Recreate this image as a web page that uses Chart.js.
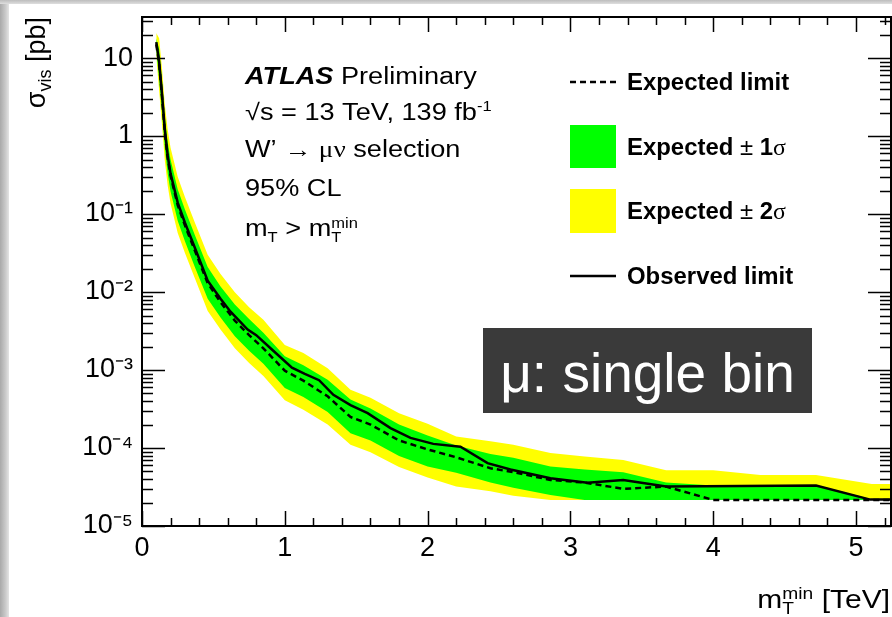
<!DOCTYPE html>
<html><head><meta charset="utf-8">
<script src="https://cdn.jsdelivr.net/npm/chart.js@4.4.1/dist/chart.umd.min.js"></script>
<style>
html,body{margin:0;padding:0;background:#fff;width:892px;height:617px;overflow:hidden;}
#leftStrip{position:absolute;left:0;top:0;width:9px;height:617px;background:linear-gradient(to right,#a9a9a9,#c9c9c9 60%,#e4e4e4);}
#topStrip{position:absolute;left:0;top:0;width:892px;height:4px;background:linear-gradient(to bottom,#bcbcbc,#dedede);}
#wrap{position:absolute;left:0;top:0;width:892px;height:617px;}
</style></head><body>
<div id="leftStrip"></div><div id="topStrip"></div>
<div id="wrap"><canvas id="c" width="892" height="617"></canvas></div>
<script>
// ---- data ----
const mTmin = [0.1, 0.12, 0.14, 0.16, 0.18, 0.2, 0.25, 0.3, 0.37, 0.46, 0.55, 0.65, 0.75, 0.85, 1.0, 1.13, 1.3, 1.46, 1.6, 1.8, 2.0, 2.2, 2.44, 2.6, 2.86, 3.1, 3.37, 3.67, 4.0, 4.33, 4.72, 5.11, 5.25];
const expectedLimit = [15, 8.5, 3.2, 1.1, 0.52, 0.31, 0.13, 0.072, 0.034, 0.013, 0.0074, 0.0043, 0.0028, 0.0019, 0.00098, 0.00073, 0.00046, 0.00025, 0.0002, 0.000125, 0.000096, 0.000076, 0.000055, 0.000049, 0.000039, 0.000036, 0.00003, 0.000032, 0.0000216, 0.0000216, 0.0000216, 0.0000216, 0.0000216];
const sigma1Up = [18, 13, 5.1, 1.76, 0.83, 0.5, 0.208, 0.115, 0.054, 0.021, 0.0118, 0.0069, 0.0045, 0.003, 0.0015, 0.00115, 0.00075, 0.00042, 0.00032, 0.0002, 0.000145, 0.000108, 0.000084, 0.000075, 0.000058, 0.000053, 0.000049, 0.000036, 0.000033, 0.0000335, 0.0000335, 0.000022, 0.000022];
const sigma1Down = [12.5, 5.4, 2.0, 0.69, 0.33, 0.195, 0.082, 0.045, 0.021, 0.0082, 0.0047, 0.0027, 0.00176, 0.0012, 0.00059, 0.00045, 0.00029, 0.000155, 0.000125, 0.000079, 0.000058, 0.000048, 0.000036, 0.000031, 0.000025, 0.0000216, 0.0000216, 0.0000216, 0.0000216, 0.0000216, 0.0000216, 0.0000216, 0.0000216];
const sigma2Up = [21, 18, 7.4, 2.5, 1.2, 0.71, 0.3, 0.166, 0.078, 0.03, 0.017, 0.0099, 0.0064, 0.0044, 0.0021, 0.00165, 0.00105, 0.00056, 0.00044, 0.00028, 0.000205, 0.00014, 0.000122, 0.00011, 0.000086, 0.000078, 0.00007, 0.000052, 0.000052, 0.000045, 0.000045, 0.0000345, 0.0000345];
const sigma2Down = [10.5, 3.8, 1.4, 0.48, 0.23, 0.136, 0.057, 0.032, 0.015, 0.0057, 0.0033, 0.0019, 0.00123, 0.00084, 0.00041, 0.00031, 0.0002, 0.00011, 0.000088, 0.000057, 0.000042, 0.000032, 0.000028, 0.0000245, 0.0000216, 0.0000216, 0.0000216, 0.0000216, 0.0000216, 0.0000216, 0.0000216, 0.0000216, 0.0000216];
const observedMass = [0.1, 0.12, 0.14, 0.16, 0.18, 0.2, 0.25, 0.3, 0.37, 0.46, 0.55, 0.62, 0.74, 0.8, 0.9, 1.05, 1.14, 1.24, 1.34, 1.46, 1.58, 1.74, 1.88, 2.04, 2.23, 2.42, 2.58, 2.86, 3.12, 3.37, 3.67, 4.72, 5.1, 5.25];
const observedLimit = [16, 9, 3.5, 1.2, 0.56, 0.33, 0.14, 0.078, 0.037, 0.014, 0.0082, 0.0056, 0.0033, 0.0028, 0.0019, 0.00107, 0.00089, 0.00074, 0.00048, 0.000355, 0.00028, 0.00018, 0.000135, 0.000113, 0.000104, 0.000064, 0.000053, 0.000041, 0.0000358, 0.000039, 0.000032, 0.000033, 0.0000218, 0.0000218];
const xTickValues = [0, 1, 2, 3, 4, 5];
const xTickLabels = ['0', '1', '2', '3', '4', '5'];
const yTickValues = [1e-5, 1e-4, 1e-3, 1e-2, 1e-1, 1, 10];
const yTickLabels = ['10\u207B\u2075', '10\u207B\u2074', '10\u207B\u00B3', '10\u207B\u00B2', '10\u207B\u00B9', '1', '10'];
const legendLabels = ['Expected limit', 'Expected \u00B1 1\u03C3', 'Expected \u00B1 2\u03C3', 'Observed limit'];
const X_MAX = 5.245, Y_MIN = 1e-5, Y_MAX = 33.6;

// ---- helpers ----
const FS = 'Liberation Sans, Arial, sans-serif';
const FSERIF = 'Liberation Serif, Times New Roman, serif';
const pts = (xs, ys) => xs.map((x, i) => ({x: x, y: ys[i]}));

function partsWidth(ctx, parts) {
  let w = 0;
  for (const p of parts) {
    ctx.font = p.f;
    if (p.stack) w += Math.max(ctx.measureText(p.sup).width, ctx.measureText(p.sub).width);
    else w += ctx.measureText(p.t).width;
  }
  return w;
}
function drawParts(ctx, x, y, parts, sx, align) {
  ctx.save();
  ctx.translate(x, y);
  ctx.scale(sx, 1);
  ctx.textBaseline = 'alphabetic';
  ctx.textAlign = 'left';
  let cx = align === 'right' ? -partsWidth(ctx, parts) : 0;
  for (const p of parts) {
    ctx.font = p.f;
    if (p.stack) {
      ctx.fillText(p.sup, cx, p.supDy);
      ctx.fillText(p.sub, cx, p.subDy);
      cx += Math.max(ctx.measureText(p.sup).width, ctx.measureText(p.sub).width);
    } else {
      ctx.fillText(p.t, cx, p.dy || 0);
      cx += ctx.measureText(p.t).width;
    }
  }
  ctx.restore();
}

const decorPlugin = {
  id: 'decor',
  afterDatasetsDraw(chart) {
    const ctx = chart.ctx;
    const xs = chart.scales.x, ys = chart.scales.y;
    const {left, right, top, bottom} = chart.chartArea;
    ctx.save();
    ctx.strokeStyle = '#000';
    ctx.fillStyle = '#000';
    // ticks (inside frame, mirrored)
    ctx.lineWidth = 1.5;
    ctx.beginPath();
    for (let i = 0; i <= 30; i++) {
      const v = i * 0.2;
      if (v > X_MAX + 1e-9) break;
      const px = Math.round(xs.getPixelForValue(v)) + 0.5;
      const major = Math.abs(v - Math.round(v)) < 1e-9;
      const len = major ? 15 : 8;
      ctx.moveTo(px, bottom); ctx.lineTo(px, bottom - len);
      ctx.moveTo(px, top); ctx.lineTo(px, top + len);
    }
    for (let e = -5; e <= 1; e++) {
      for (let k = 1; k <= 9; k++) {
        const v = k * Math.pow(10, e);
        if (v > Y_MAX) break;
        const py = Math.round(ys.getPixelForValue(v)) + 0.5;
        const len = k === 1 ? 23 : 11;
        ctx.moveTo(left, py); ctx.lineTo(left + len, py);
        ctx.moveTo(right, py); ctx.lineTo(right - len, py);
      }
    }
    ctx.stroke();
    // frame
    ctx.lineWidth = 2;
    ctx.strokeRect(left, top, right - left, bottom - top);
    ctx.restore();
  },
  afterDraw(chart) {
    const ctx = chart.ctx;
    ctx.save();
    ctx.fillStyle = '#000';
    // ATLAS label block
    const fa = 23, sa = 1.18;
    const n = fa + 'px ' + FS, sm = Math.round(fa * 0.62) + 'px ' + FS;
    drawParts(ctx, 245, 84, [{t: 'ATLAS', f: 'italic bold ' + n}, {t: ' Preliminary', f: n}], sa);
    drawParts(ctx, 245, 120, [{t: '\u221As = 13 TeV, 139 fb', f: n}, {t: '-1', f: sm, dy: -9}], sa);
    drawParts(ctx, 245, 157, [{t: 'W\u2019 \u2192 ', f: n}, {t: '\u03BC\u03BD', f: fa + 'px ' + FSERIF}, {t: ' selection', f: n}], sa);
    drawParts(ctx, 245, 196, [{t: '95% CL', f: n}], sa);
    drawParts(ctx, 245, 236, [{t: 'm', f: n}, {t: 'T', f: sm, dy: 6}, {t: ' > m', f: n}, {stack: true, sup: 'min', sub: 'T', f: sm, supDy: -8, subDy: 6}], sa);

    // legend
    const fl = 23, sl = 1.04;
    const b = 'bold ' + fl + 'px ' + FS, nr = fl + 'px ' + FS, sg = fl + 'px ' + FSERIF;
    const rows = [82, 147, 211, 276];
    ctx.strokeStyle = '#000';
    ctx.lineWidth = 2.5;
    ctx.setLineDash([6, 4]);
    ctx.beginPath(); ctx.moveTo(570, rows[0]); ctx.lineTo(616, rows[0]); ctx.stroke();
    ctx.setLineDash([]);
    ctx.fillStyle = '#00ff00'; ctx.fillRect(570, 125, 46, 43);
    ctx.fillStyle = '#ffff00'; ctx.fillRect(570, 189, 46, 44);
    ctx.beginPath(); ctx.moveTo(570, rows[3]); ctx.lineTo(616, rows[3]); ctx.stroke();
    ctx.fillStyle = '#000';
    const off = 8;
    drawParts(ctx, 627, rows[0] + off, [{t: legendLabels[0], f: b}], sl);
    drawParts(ctx, 627, rows[1] + off, [{t: 'Expected ', f: b}, {t: '\u00B1 ', f: nr}, {t: '1', f: b}, {t: '\u03C3', f: sg}], sl);
    drawParts(ctx, 627, rows[2] + off, [{t: 'Expected ', f: b}, {t: '\u00B1 ', f: nr}, {t: '2', f: b}, {t: '\u03C3', f: sg}], sl);
    drawParts(ctx, 627, rows[3] + off, [{t: legendLabels[3], f: b}], sl);

    // axis titles
    const ft = 25;
    drawParts(ctx, 890, 608, [{t: 'm', f: ft + 'px ' + FS}, {stack: true, sup: 'min', sub: 'T', f: Math.round(ft * 0.62) + 'px ' + FS, supDy: -9, subDy: 6}, {t: ' [TeV]', f: ft + 'px ' + FS}], 1.2, 'right');
    ctx.save();
    ctx.translate(45, 17);
    ctx.rotate(-Math.PI / 2);
    drawParts(ctx, 0, 0, [{t: '\u03C3', f: '27px ' + FS}, {t: 'vis', f: '18px ' + FS, dy: 6}, {t: ' [pb]', f: '27px ' + FS}], 1.0, 'right');
    ctx.restore();

    // overlay box
    ctx.fillStyle = '#3a3a3a';
    ctx.fillRect(483, 328, 329, 85);
    ctx.fillStyle = '#ffffff';
    ctx.font = '55px ' + FS;
    ctx.textAlign = 'center';
    ctx.textBaseline = 'alphabetic';
    ctx.fillText('\u03BC: single bin', 647.5, 392);
    ctx.restore();
  }
};

const tickFont = {family: FS, size: 27};
const chart = new Chart(document.getElementById('c'), {
  type: 'line',
  data: {
    datasets: [
      {label: 'Expected \u00B1 2\u03C3 (low)', data: pts(mTmin, sigma2Down), borderColor: 'rgba(0,0,0,0)', borderWidth: 0, pointRadius: 0, fill: false, order: 4},
      {label: legendLabels[2], data: pts(mTmin, sigma2Up), borderColor: 'rgba(0,0,0,0)', borderWidth: 0, pointRadius: 0, backgroundColor: '#ffff00', fill: {target: 0}, order: 4},
      {label: 'Expected \u00B1 1\u03C3 (low)', data: pts(mTmin, sigma1Down), borderColor: 'rgba(0,0,0,0)', borderWidth: 0, pointRadius: 0, fill: false, order: 3},
      {label: legendLabels[1], data: pts(mTmin, sigma1Up), borderColor: 'rgba(0,0,0,0)', borderWidth: 0, pointRadius: 0, backgroundColor: '#00ff00', fill: {target: 2}, order: 3},
      {label: legendLabels[0], data: pts(mTmin, expectedLimit), borderColor: '#000', borderWidth: 2.5, borderDash: [6, 4], pointRadius: 0, fill: false, order: 2},
      {label: legendLabels[3], data: pts(observedMass, observedLimit), borderColor: '#000', borderWidth: 2.5, pointRadius: 0, fill: false, order: 1}
    ]
  },
  options: {
    responsive: false,
    animation: false,
    devicePixelRatio: 1,
    layout: {padding: {left: 0, right: 1, top: 17, bottom: 0}},
    elements: {line: {tension: 0}},
    plugins: {legend: {display: false}, tooltip: {enabled: false}},
    scales: {
      x: {
        type: 'linear', min: 0, max: X_MAX,
        grid: {display: false, drawTicks: false},
        border: {display: false},
        ticks: {
          stepSize: 1, includeBounds: false, autoSkip: false, maxRotation: 0,
          font: tickFont, color: '#000', padding: 6,
          callback: (v) => { const i = xTickValues.indexOf(v); return i >= 0 ? xTickLabels[i] : ''; }
        },
        afterFit: (s) => { s.height = 91; s.paddingLeft = 0; s.paddingRight = 0; }
      },
      y: {
        type: 'logarithmic', min: Y_MIN, max: Y_MAX,
        grid: {display: false, drawTicks: false},
        border: {display: false},
        ticks: {
          autoSkip: false, font: tickFont, color: '#000', padding: 9,
          callback: (v) => {
            const i = yTickValues.findIndex(t => Math.abs(Math.log10(v) - Math.log10(t)) < 1e-6);
            return i >= 0 ? yTickLabels[i] : '';
          }
        },
        afterFit: (s) => { s.width = 142; s.paddingTop = 0; s.paddingBottom = 0; }
      }
    }
  },
  plugins: [decorPlugin]
});
</script>
</body></html>
